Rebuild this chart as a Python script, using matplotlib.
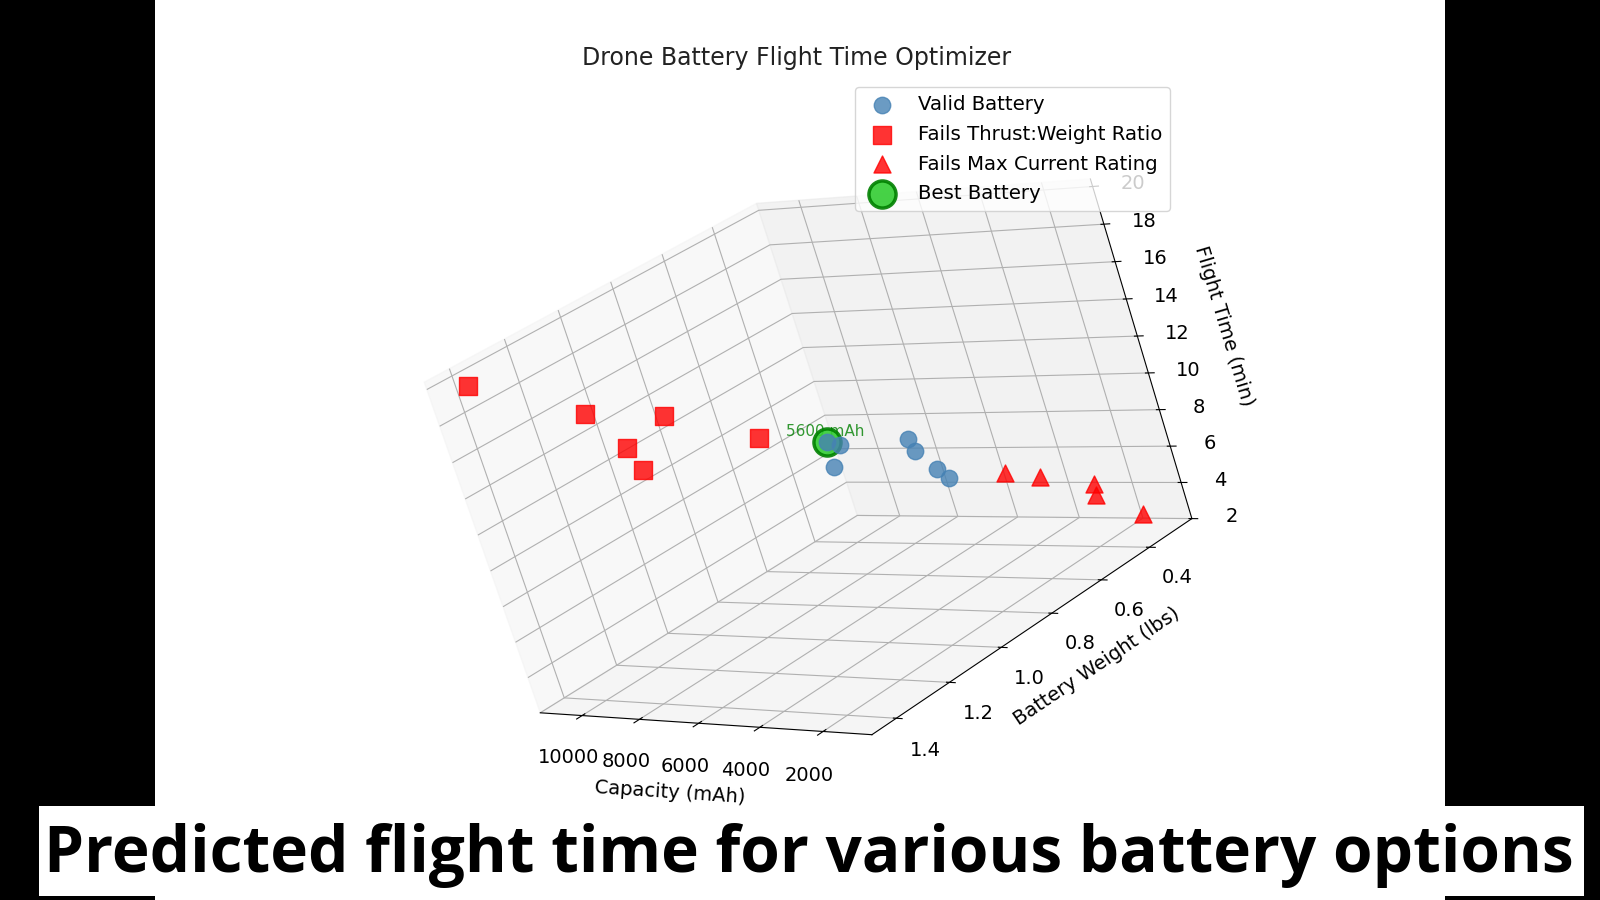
import matplotlib
matplotlib.use('Agg')
import matplotlib.pyplot as plt
from matplotlib.patches import Rectangle
from mpl_toolkits.mplot3d import Axes3D

# capacity (mAh), weight (lbs), flight time (min)
valid_cap = [5600, 5356, 5555, 4335, 4287, 4060, 3920]
valid_wt = [0.83, 0.815, 0.837, 0.69, 0.684, 0.653, 0.636]
valid_time = [11.47, 11.18, 10.17, 10.45, 9.72, 8.48, 7.8]

thrust_cap = [10470, 8896, 7770, 8484, 8357, 6490]
thrust_wt = [1.45, 1.257, 1.116, 1.202, 1.186, 0.96]
thrust_time = [19.8, 16.66, 15.33, 14.34, 13.01, 12.8]

current_cap = [3106, 2600, 1832, 1851, 1257]
current_wt = [0.53, 0.468, 0.376, 0.378, 0.30]
current_time = [7.21, 6.43, 5.28, 4.64, 2.93]

best_cap = [5600]
best_wt = [0.83]
best_time = [11.47]
best_label = '5600 mAh'

x_ticks = [2000, 4000, 6000, 8000, 10000]
y_ticks = [0.4, 0.6, 0.8, 1.0, 1.2, 1.4]
z_ticks = [2, 4, 6, 8, 10, 12, 14, 16, 18, 20]

fig = plt.figure(figsize=(16, 9), dpi=100, facecolor='black')
bg = fig.add_axes([155/1600, 0, 1290/1600, 1])
bg.set_facecolor('white')
bg.set_xticks([])
bg.set_yticks([])
for s in bg.spines.values():
    s.set_visible(False)

ax = fig.add_axes([0.1955, 0.0665, 0.609, 0.8425], projection='3d', computed_zorder=False)
ax.view_init(elev=15.7, azim=139.5, roll=18)
# best one sits underneath, the valid dot shows through it
ax.scatter(valid_cap, valid_wt, valid_time, c='steelblue', s=140, alpha=0.8, label='Valid Battery', depthshade=False, zorder=3)
ax.scatter(thrust_cap, thrust_wt, thrust_time, c='red', marker='s', s=150, alpha=0.8, label='Fails Thrust:Weight Ratio', depthshade=False, zorder=3)
ax.scatter(current_cap, current_wt, current_time, c='red', marker='^', s=150, alpha=0.8, label='Fails Max Current Rating', depthshade=False, zorder=3)
ax.scatter(best_cap, best_wt, best_time, c='limegreen', edgecolors='green', linewidths=2.5, s=380, alpha=0.9, label='Best Battery', depthshade=False, zorder=2)
ax.text(best_cap[0], best_wt[0], best_time[0] + 0.3, best_label, color='green', alpha=0.8, fontsize=11, ha='center', zorder=1)

ax.set_xlim(500, 11500)
ax.set_ylim(0.22, 1.49)
ax.set_zlim(2, 20.4)
ax.set_xticks(x_ticks)
ax.set_yticks(y_ticks)
ax.set_zticks(z_ticks)
ax.tick_params(labelsize=14, pad=9)
ax.set_xlabel('Capacity (mAh)', fontsize=14, labelpad=14)
ax.set_ylabel('Battery Weight (lbs)', fontsize=14, labelpad=14)
ax.set_zlabel('Flight Time (min)', fontsize=14, labelpad=14)
fig.text(797/1600, 1 - 58/900, 'Drone Battery Flight Time Optimizer', fontsize=17, ha='center', va='center', color='#222222')
ax.legend(loc='upper right', fontsize=14.2, bbox_to_anchor=(1170/1600, 813/900),
          bbox_transform=fig.transFigure, borderaxespad=0, labelspacing=0.55)

fig.add_artist(Rectangle((39/1600, 4/900), 1545/1600, 90/900, transform=fig.transFigure,
                         facecolor='white', edgecolor='none'))
fig.text(809/1600, 28/900, 'Predicted flight time for various battery options', fontsize=46, fontweight='bold',
         family='Open Sans', ha='center', va='baseline', color='black')

fig.savefig('out.png', dpi=100, facecolor='black')
